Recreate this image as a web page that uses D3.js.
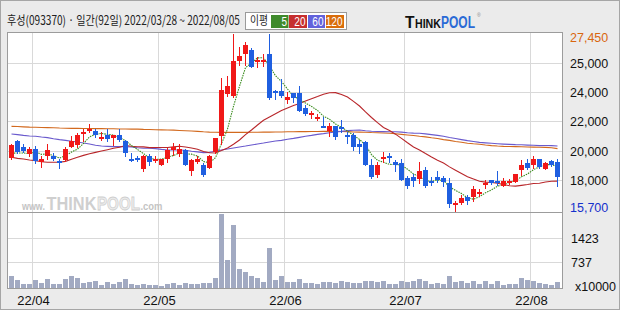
<!DOCTYPE html>
<html><head><meta charset="utf-8">
<script src="https://cdn.jsdelivr.net/npm/d3@7"></script>
<style>html,body{margin:0;padding:0;background:#ebebeb;}svg{display:block}</style>
</head><body>
<svg id="c" width="620" height="310"></svg>
<script>
// ---------------- DATA ----------------
const dates = ["03/28","03/29","03/30","03/31",
"04/01","04/04","04/05","04/06","04/07","04/08","04/11","04/12","04/13","04/14","04/15","04/18","04/19","04/20","04/21","04/22","04/25","04/26","04/27","04/28","04/29",
"05/02","05/03","05/04","05/06","05/09","05/10","05/11","05/12","05/13","05/16","05/17","05/18","05/19","05/20","05/23","05/24","05/25","05/26","05/27","05/30","05/31",
"06/02","06/03","06/07","06/08","06/09","06/10","06/13","06/14","06/15","06/16","06/17","06/20","06/21","06/22","06/23","06/24","06/27","06/28","06/29","06/30",
"07/01","07/04","07/05","07/06","07/07","07/08","07/11","07/12","07/13","07/14","07/15","07/18","07/19","07/20","07/21","07/22","07/25","07/26","07/27","07/28","07/29",
"08/01","08/02","08/03","08/04","08/05"];

const opens = [19200,20350,19900,19450,19800,18900,19300,19350,19000,19050,
19950,20050,20900,21000,21000,20450,20750,20550,20750,20300,
19150,19200,18450,19350,19050,18750,19100,19750,19450,19750,
18350,18900,18750,18550,19600,20650,23450,23300,25650,26100,
26400,25650,25650,26100,23650,23650,23050,23500,23500,22500,
22100,21800,21350,21000,21300,21250,20700,20750,20150,20250,
18750,18050,19100,19300,18950,18850,17850,17950,17800,18400,
17650,17950,17850,17500,16150,16200,16600,16600,16900,17400,
17700,17650,17350,17600,17600,18400,18850,18750,19100,18450,
19000,18950];
const highs = [20150,20400,20100,19950,20000,19300,20150,19500,19150,19950,
20650,20850,21150,21450,21150,20950,21150,20750,21150,20400,
19500,19350,19400,19450,19300,19150,19850,20200,20100,19800,
19100,19300,18850,19400,20550,24500,24650,27450,26600,26950,
26500,25900,26100,27450,23700,24450,23600,23550,24000,22700,
22350,22100,21900,21550,21350,21700,20950,20850,20400,20300,
19100,18950,19600,19500,19050,19100,18000,18150,18900,18600,
17950,18300,18000,17850,16350,16700,16750,17350,17100,17750,
17750,18350,17850,17800,18100,19050,19150,19350,19100,18900,
19050,19100];
const lows = [19150,19500,19600,19300,18850,18600,19150,19050,18550,19000,
19900,19950,20300,20950,20600,20400,20300,20050,20350,19350,
19000,19000,18350,18750,18900,18700,18950,19400,19350,18700,
18050,18850,18000,18500,19500,20150,23300,23250,25400,25400,
25250,25250,25350,23100,23150,23250,22850,22900,22300,22050,
21850,21700,21250,20650,20450,20900,20200,19750,19500,18750,
17850,17900,18900,18950,18300,17700,17200,17350,17500,17250,
17400,17600,17300,15950,15700,16100,16100,16300,16650,17200,
17450,17400,17300,17450,17600,18050,18450,18550,18500,18450,
18650,17350];
const closes = [20050,19600,19650,19800,19000,19150,19750,19100,18950,19800,
20350,20750,20950,21150,20700,20600,20450,20700,20400,19550,
19050,19100,19350,18900,19100,19150,19750,19900,19800,18750,
19050,19150,18050,19350,20500,23700,24000,25650,26000,26700,
25250,25700,25700,23200,23500,23300,23250,23200,22350,22150,
22200,21900,21300,21300,20600,21100,20650,19900,19900,18750,
17900,18750,19250,19200,18700,17750,17350,17650,18350,17300,
17600,17700,17600,16100,16200,16550,16300,17100,16950,17500,
17500,17550,17650,17650,18100,18750,18500,19100,18600,18850,
18700,17900];
// volume, unit x10000 shares
const volumes = [347,231,116,116,231,145,260,116,116,260,
347,289,145,174,202,87,174,116,174,260,
116,87,116,87,87,58,116,145,87,145,
116,116,145,145,289,2111,810,1793,550,463,
347,289,174,1157,231,347,174,174,260,145,
145,116,174,174,145,202,174,145,145,202,
202,174,202,116,116,202,174,202,260,202,
116,145,116,347,174,202,145,202,116,202,
116,202,87,116,116,289,231,202,145,116,
87,174];

// moving-average values before enough closes are visible
const ma5Head = [19510,19530,19530,19480];
const ma20Head = [19240,19170,19130,19060,19020,18950,18910,18910,18910,18970,
19110,19240,19370,19480,19570,19660,19750,19840,19910];
const ma60Head = [20790,20750,20700,20660,20640,20590,20550,20480,20420,20370,
20310,20260,20190,20130,20040,19990,19970,19950,19950,19950,
19930,19880,19840,19840,19820,19770,19730,19730,19730,19710,
19640,19600,19550,19570,19640,19730,19790,19860,19930,19990,
20060,20130,20190,20260,20330,20370,20440,20500,20570,20640,
20700,20770,20820,20880,20930,20970,21020,21040,21060];
const ma120 = [21300,21290,21270,21250,21240,21230,21220,21210,
21190,21180,21170,21170,21160,21160,21150,21150,21140,21140,21130,21130,21120,21120,
21100,21090,21080,21070,21060,21050,
21030,21010,20990,20970,
20940,20920,20910,20900,20900,20900,20900,20900,20910,20910,20920,20920,20930,20930,20940,20940,20950,20950,
20960,20960,20970,20970,20970,20960,20950,
20930,20920,20910,20890,20880,20860,
20840,20810,20770,20730,20690,20640,20600,20540,20490,20420,20370,20290,20240,
20180,20140,20110,20060,20020,
19990,19970,19960,19950,19940,19930,
19920,19910,19900,19880,19820];

const priceMax = 27450, priceMin = 15700;
const priceGridValues = [25500,23570,21660,19680,17710];
const priceGridLabels = ["25,000","24,000","22,000","20,000","18,000"];
const volMax = 2150;
const volGridValues = [737,1423];
const volGridLabels = ["737","1423"];
const monthStartDates = ["04/01","05/02","06/02","07/01","08/01"];
const monthLabels = ["22/04","22/05","22/06","22/07","22/08"];
const maPeriods = ["5","20","60","120"];
const maColors = ["#3a8c1e","#b8262a","#6a5acd","#d2691e"];
const legendColors = ["#3f8a2c","#c62f2f","#6262dc","#d96d0c"];
const titleText = "후성(093370) · 일간(92일) 2022/03/28 ~ 2022/08/05";

// ---------------- DRAW ----------------
const svg = d3.select("#c");
const FONT = "'Liberation Sans', Arial, sans-serif";
const KFONT = "'Noto Sans CJK KR', sans-serif";

// squeeze a text horizontally to a target width (keeps real text)
function fit(sel, x0, w){
  const len = sel.node().getComputedTextLength();
  sel.attr("x",0).attr("transform",`translate(${x0},0) scale(${(w/len).toFixed(4)},1)`);
  return sel;
}

svg.append("rect").attr("width",620).attr("height",310).attr("fill","#ebebeb");
svg.append("rect").attr("x",0.5).attr("y",0.5).attr("width",619).attr("height",309)
  .attr("fill","none").attr("stroke","#a6a6a6");

const L = 7.5, R = 562.5, T = 32.5, MID = 212.5, B = 288.5;
svg.append("rect").attr("x",L).attr("y",T).attr("width",R-L).attr("height",B-T)
  .attr("fill","#fff");

const x = d3.scaleBand().domain(dates).range([8.5,560.5]);
const cx = i => x(dates[i]) + 3;
const y = d3.scaleLinear().domain([priceMin,priceMax]).range([210.5,34]);
const yv = d3.scaleLinear().domain([0,volMax]).range([288,213]);

const grid = svg.append("g").attr("stroke","#d9d9d9").attr("stroke-width",1);
monthStartDates.forEach(d=>{
  grid.append("line").attr("x1",x(d)).attr("x2",x(d)).attr("y1",T).attr("y2",B);
});
priceGridValues.forEach(v=>{
  const yy = Math.round(y(v))+0.5;
  grid.append("line").attr("x1",L).attr("x2",R).attr("y1",yy).attr("y2",yy);
});
volGridValues.forEach(v=>{
  const yy = Math.round(yv(v))+0.5;
  grid.append("line").attr("x1",L).attr("x2",R).attr("y1",yy).attr("y2",yy);
});

// watermark
const wmg = svg.append("g").attr("font-family",FONT).attr("font-weight","bold");
fit(wmg.append("text").attr("y",210.5).attr("font-size",11).attr("fill","#c4c4c4").text("www."),22,23);
fit(wmg.append("text").attr("y",210.5).attr("font-size",19).attr("fill","#cfcfcf").text("THINK"),46.5,50);
fit(wmg.append("text").attr("y",210.5).attr("font-size",19).attr("fill","#ececec")
  .attr("stroke","#cfcfcf").attr("stroke-width",0.8).text("POOL"),97,43);
fit(wmg.append("text").attr("y",210.5).attr("font-size",11).attr("fill","#c4c4c4").text(".com"),140.5,22);

// volume bars
svg.append("g").selectAll("rect").data(volumes).join("rect")
  .attr("x",(v,i)=>x(dates[i])+0.5).attr("width",5)
  .attr("y",v=>Math.round(yv(v))).attr("height",v=>288-Math.round(yv(v)))
  .attr("fill","#a2aac2").attr("shape-rendering","crispEdges");

// moving averages
const ma5 = closes.map((c,i)=> i<4 ? ma5Head[i] : d3.mean(closes.slice(i-4,i+1)));
const ma20 = closes.map((c,i)=> i<19 ? ma20Head[i] : d3.mean(closes.slice(i-19,i+1)));
const ma60 = closes.map((c,i)=> i<59 ? ma60Head[i] : d3.mean(closes.slice(i-59,i+1)));
const line = d3.line().x((d,i)=>cx(i)).y(d=>y(d));
[[ma120,maColors[3]],[ma60,maColors[2]],[ma20,maColors[1]]].forEach(([arr,col])=>{
  svg.append("path").attr("d",line(arr)).attr("fill","none")
    .attr("stroke",col).attr("stroke-width",1.1);
});
svg.append("path").attr("d",line(ma5)).attr("fill","none")
  .attr("stroke",maColors[0]).attr("stroke-width",1.1).attr("stroke-dasharray","1.5,1");

// candles
const cg = svg.append("g").attr("shape-rendering","crispEdges");
dates.forEach((d,i)=>{
  const up = closes[i] >= opens[i];
  const col = up ? "#f01818" : "#1f5fe0";
  cg.append("line").attr("x1",cx(i)).attr("x2",cx(i))
    .attr("y1",Math.round(y(highs[i]))).attr("y2",Math.round(y(lows[i]))+1)
    .attr("stroke",col).attr("stroke-width",1);
  const top = Math.round(y(Math.max(opens[i],closes[i])));
  const bot = Math.round(y(Math.min(opens[i],closes[i])));
  cg.append("rect").attr("x",x(d)+0.5).attr("width",5)
    .attr("y",top).attr("height",Math.max(2,bot-top)).attr("fill",col);
});

// frames
const fr = svg.append("g").attr("stroke","#9c9c9c").attr("fill","none");
fr.append("rect").attr("x",L).attr("y",T).attr("width",R-L).attr("height",B-T);
fr.append("line").attr("x1",L).attr("x2",R).attr("y1",MID).attr("y2",MID);

// right axis labels
const rl = svg.append("g").attr("font-family",FONT).attr("font-size",12.5);
rl.append("text").attr("x",570).attr("y",y(priceMax)+8).text(d3.format(",")(priceMax)).attr("fill","#d9660f");
priceGridValues.forEach((v,k)=>{
  rl.append("text").attr("x",570).attr("y",Math.round(y(v))+5).text(priceGridLabels[k]).attr("fill","#111");
});
rl.append("text").attr("x",570).attr("y",y(priceMin)+1).text(d3.format(",")(priceMin)).attr("fill","#1530cc");
volGridValues.forEach((v,k)=>{
  rl.append("text").attr("x",571).attr("y",Math.round(yv(v))+5).text(volGridLabels[k]).attr("fill","#111");
});
rl.append("text").attr("x",575).attr("y",yv(0)+3).text("x10000").attr("fill","#111");

// x labels
const xl = svg.append("g").attr("font-family",FONT).attr("font-size",13).attr("fill","#111").attr("text-anchor","middle");
monthStartDates.forEach((d,k)=>{
  xl.append("text").attr("x",x(d)+1).attr("y",305).text(monthLabels[k]);
});

// title
fit(svg.append("text").attr("y",25.5).attr("font-family",KFONT)
  .attr("font-size",12.5).attr("fill","#222").text(titleText), 7, 233);

// legend
const lg = svg.append("g");
lg.append("rect").attr("x",245.5).attr("y",12.5).attr("width",101).attr("height",17)
  .attr("fill","#fff").attr("stroke","#9a9a9a");
fit(lg.append("text").attr("y",25.5).attr("font-family",KFONT)
  .attr("font-size",12).attr("fill","#222").text("이평"), 250, 18);
const boxes = [[271,17.5],[289,18],[308,17],[326,18]];
boxes.forEach((b,k)=>{
  lg.append("rect").attr("x",b[0]).attr("y",15).attr("width",b[1]).attr("height",13).attr("fill",legendColors[k]);
});
boxes.forEach((b,k)=>{
  const t = maPeriods[k];
  const tl = t.length*5.6;
  fit(lg.append("text").attr("y",26).attr("font-family",FONT).attr("font-size",12)
    .attr("fill","#fff").text(t), b[0]+b[1]-1.5-tl, tl);
});

// logo
const lo = svg.append("g").attr("font-family",FONT).attr("font-weight","bold");
fit(lo.append("text").attr("y",28).attr("font-size",16).attr("fill","#111").text("T"),405,9.5);
fit(lo.append("text").attr("y",28).attr("font-size",13).attr("fill","#111").text("HINK"),415,26);
fit(lo.append("text").attr("y",28).attr("font-size",16).attr("fill","#2a6ad6").text("POOL"),441,34);
svg.append("text").attr("x",477).attr("y",17).attr("font-size",5).attr("fill","#888").attr("font-family",FONT).text("®");
</script>
</body></html>
